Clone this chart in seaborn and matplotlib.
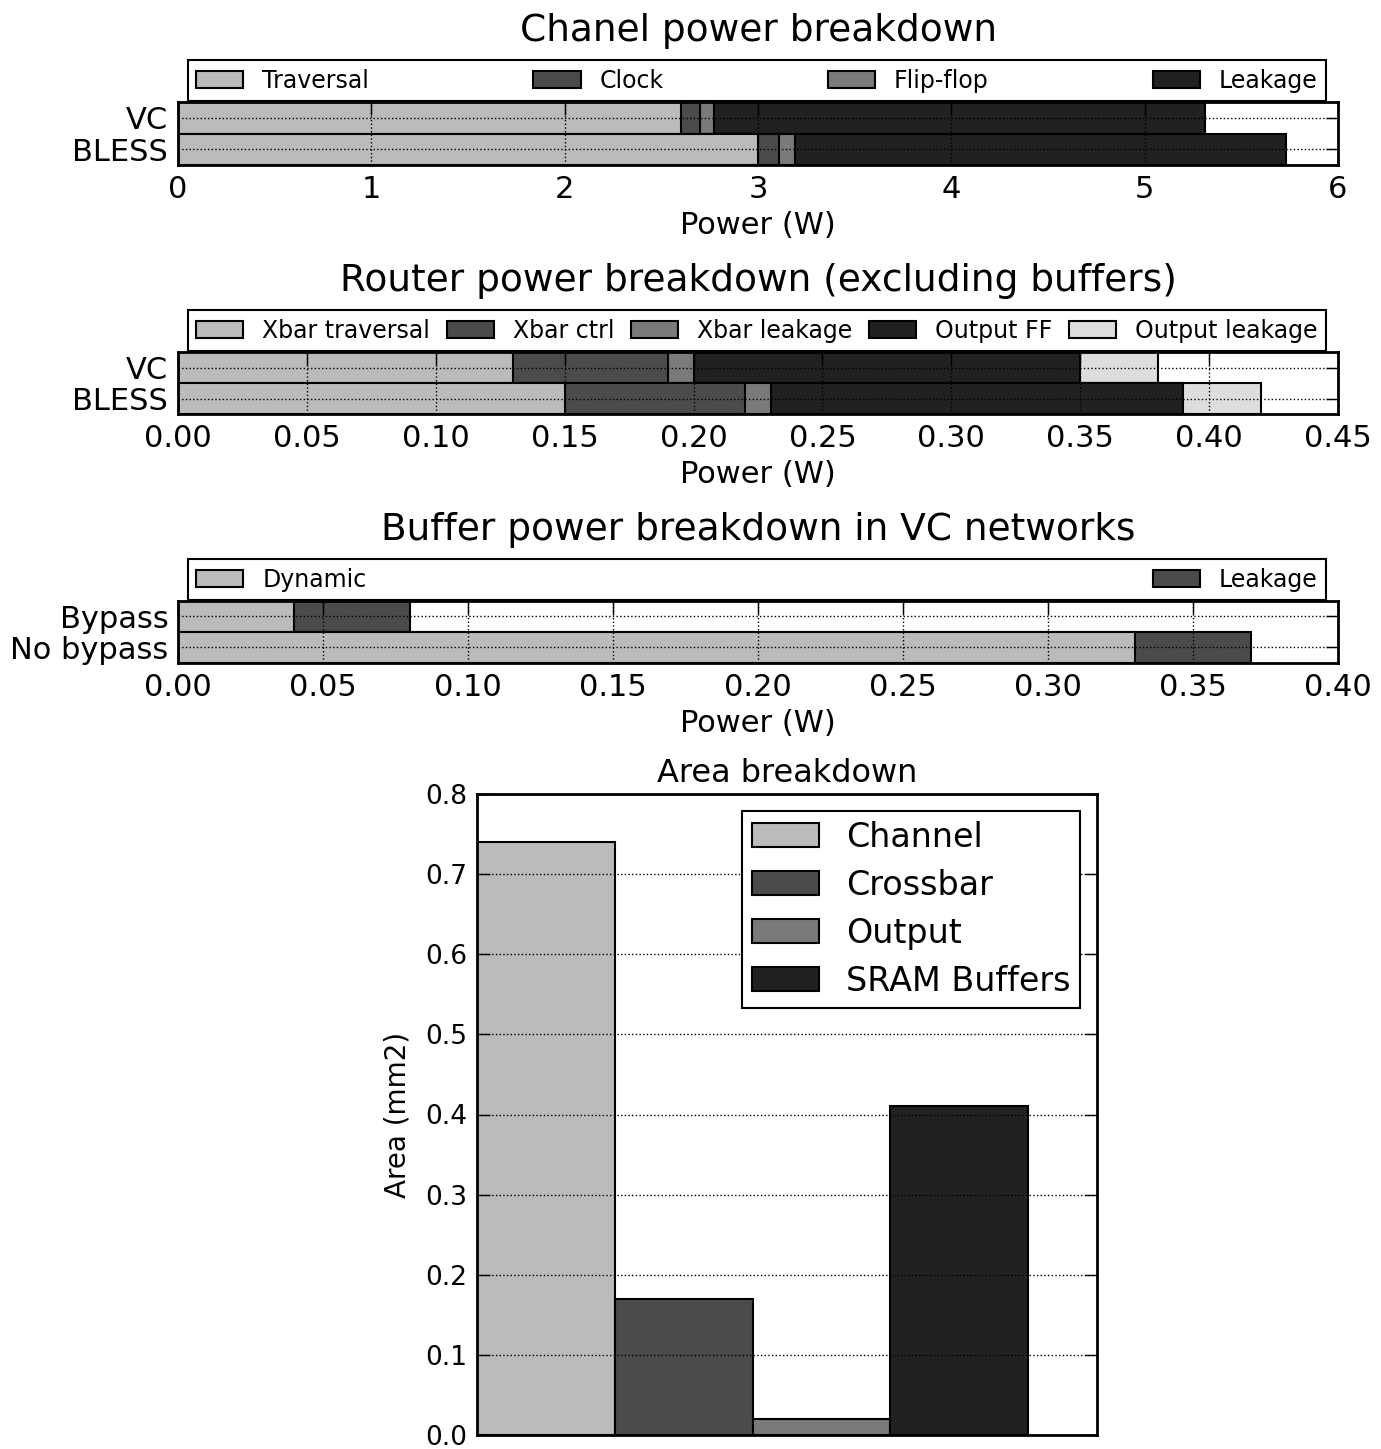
import numpy as np
import matplotlib
matplotlib.use("Agg")
import matplotlib.pyplot as plt
import matplotlib.patches as mpatches
import seaborn as sns

# ---- data -------------------------------------------------------------
configs = ["VC", "BLESS"]

channel_labels = ["Traversal", "Clock", "Flip-flop", "Leakage"]
channel_traversal = [2.60, 3.00]
channel_clock = [0.10, 0.11]
channel_flipflop = [0.07, 0.08]
channel_leakage = [2.54, 2.54]

router_labels = ["Xbar traversal", "Xbar ctrl", "Xbar leakage", "Output FF", "Output leakage"]
xbar_traversal = [0.13, 0.15]
xbar_ctrl = [0.06, 0.07]
xbar_leakage = [0.01, 0.01]
output_ff = [0.15, 0.16]
output_leakage = [0.03, 0.03]

buffer_configs = ["Bypass", "No bypass"]
buffer_labels = ["Dynamic", "Leakage"]
buffer_dynamic = [0.04, 0.33]
buffer_leakage = [0.04, 0.04]

area_components = ["Channel", "Crossbar", "Output", "SRAM Buffers"]
area_mm2 = [0.74, 0.17, 0.02, 0.41]

channel_ticks = [0, 1, 2, 3, 4, 5, 6]
router_ticks = [0.00, 0.05, 0.10, 0.15, 0.20, 0.25, 0.30, 0.35, 0.40, 0.45]
buffer_ticks = [0.00, 0.05, 0.10, 0.15, 0.20, 0.25, 0.30, 0.35, 0.40]
area_ticks = [0.0, 0.1, 0.2, 0.3, 0.4, 0.5, 0.6, 0.7, 0.8]

# ---- style ------------------------------------------------------------
sns.set_theme(style="white")
plt.rcParams["font.family"] = ["DejaVu Sans"]
plt.rcParams["text.color"] = "black"
plt.rcParams["axes.labelcolor"] = "black"
plt.rcParams["axes.titlecolor"] = "black"
plt.rcParams["xtick.color"] = "black"
plt.rcParams["ytick.color"] = "black"
plt.rcParams["legend.labelcolor"] = "black"
plt.rcParams["axes.edgecolor"] = "black"
plt.rcParams["axes.linewidth"] = 2.0
plt.rcParams["grid.color"] = "black"
plt.rcParams["grid.linestyle"] = ":"
plt.rcParams["grid.linewidth"] = 1.0
plt.rcParams["axes.axisbelow"] = False

GRAYS = ["#bbbbbb", "#4b4b4b", "#7a7a7a", "#212121", "#dddddd"]

W, H = 1381, 1449
fig = plt.figure(figsize=(W / 100, H / 100), dpi=100)


def px_axes(left, top, right, bottom):
    return fig.add_axes([left / W, 1 - bottom / H, (right - left) / W, (bottom - top) / H])


def stacked_barh(ax, cats, layers, colors):
    totals = np.cumsum(np.array(layers, dtype=float), axis=0)
    for i in reversed(range(len(layers))):
        sns.barplot(x=totals[i], y=cats, orient="h", color=colors[i], width=1.0,
                    saturation=1, edgecolor="black", linewidth=1.5,
                    errorbar=None, ax=ax)


def style_power_axes(ax, ticks, fmt, title, labels, colors, legend_px):
    ax.set_xlim(ticks[0], ticks[-1])
    ax.set_ylim(1.5, -0.5)
    ax.set_xticks(ticks)
    ax.set_xticklabels([fmt.format(t) for t in ticks])
    ax.tick_params(axis="both", direction="in", top=True, right=True,
                   length=9, width=1, labelsize=22, pad=7,
                   colors="black", labelcolor="black")
    ax.grid(True, axis="both")
    ax.set_ylabel("")
    ax.set_xlabel("Power (W)", fontsize=22, labelpad=5, color="black")
    ax.set_title(title, fontsize=27, pad=44, color="black")
    handles = [mpatches.Patch(facecolor=c, edgecolor="black", linewidth=1.5)
               for c in colors]
    l, t, r, b = legend_px
    leg = ax.legend(handles, labels, loc="lower left", ncol=len(labels),
                    mode="expand", borderaxespad=0, fontsize=17,
                    borderpad=0.35,
                    bbox_to_anchor=(l / W, 1 - b / H, (r - l) / W, 0.01),
                    bbox_transform=fig.transFigure, fancybox=False,
                    framealpha=1, edgecolor="black")
    leg.get_frame().set_linewidth(1.5)
    for s in ax.spines.values():
        s.set_linewidth(2.0)


# ---- channel power ----------------------------------------------------
ax1 = px_axes(178, 102, 1338, 165)
stacked_barh(ax1, configs,
             [channel_traversal, channel_clock, channel_flipflop, channel_leakage],
             GRAYS[:4])
style_power_axes(ax1, channel_ticks, "{:d}", "Chanel power breakdown",
                 channel_labels, GRAYS[:4], (188, 60, 1326, 101))

# ---- router power -----------------------------------------------------
ax2 = px_axes(178, 352, 1338, 414)
stacked_barh(ax2, configs,
             [xbar_traversal, xbar_ctrl, xbar_leakage, output_ff, output_leakage],
             GRAYS)
style_power_axes(ax2, router_ticks, "{:.2f}",
                 "Router power breakdown (excluding buffers)",
                 router_labels, GRAYS, (188, 310, 1326, 351))

# ---- buffer power -----------------------------------------------------
ax3 = px_axes(178, 601, 1338, 663)
stacked_barh(ax3, buffer_configs, [buffer_dynamic, buffer_leakage], GRAYS[:2])
style_power_axes(ax3, buffer_ticks, "{:.2f}",
                 "Buffer power breakdown in VC networks",
                 buffer_labels, GRAYS[:2], (188, 559, 1326, 600))

# ---- area -------------------------------------------------------------
ax4 = px_axes(477, 794, 1097, 1435)
sns.barplot(x=area_components, y=area_mm2, hue=area_components,
            palette=GRAYS[:4], width=1.0, saturation=1, edgecolor="black",
            linewidth=1.5, errorbar=None, legend=False, ax=ax4)
ax4.set_xlim(-0.5, 4.0)
ax4.set_ylim(0, 0.8)
ax4.set_xticks([])
ax4.set_yticks(area_ticks)
ax4.set_yticklabels([f"{t:.1f}" for t in area_ticks])
ax4.tick_params(axis="y", direction="in", left=True, right=True,
                length=9, width=1, labelsize=19, pad=7,
                colors="black", labelcolor="black")
ax4.grid(True, axis="y")
ax4.set_xlabel("")
ax4.set_ylabel("Area (mm2)", fontsize=20, labelpad=10, color="black")
ax4.set_title("Area breakdown", fontsize=23, pad=9, color="black")
for s in ax4.spines.values():
    s.set_linewidth(2.0)
area_handles = [mpatches.Patch(facecolor=c, edgecolor="black", linewidth=1.5)
                for c in GRAYS[:4]]
leg4 = ax4.legend(area_handles, area_components, loc="upper right", fontsize=24,
                  labelspacing=0.45, borderpad=0.3, fancybox=False,
                  framealpha=1, edgecolor="black")
leg4.get_frame().set_linewidth(1.5)

fig.savefig("out.png", dpi=100)
